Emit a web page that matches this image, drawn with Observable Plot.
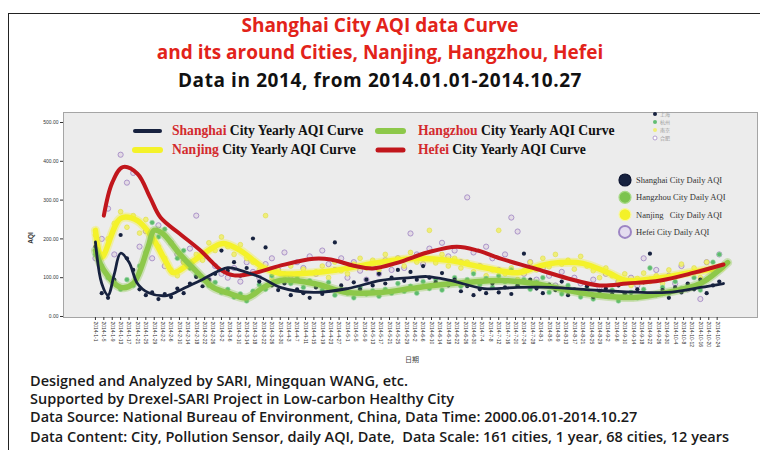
<!DOCTYPE html>
<html><head><meta charset="utf-8">
<script src="https://cdn.jsdelivr.net/npm/d3@7"></script>
<script src="https://cdn.jsdelivr.net/npm/@observablehq/plot@0.6"></script>
<style>
body{margin:0;background:#fff;}
#wrap{position:relative;width:760px;height:450px;overflow:hidden;font-family:"Open Sans",Lato,sans-serif;}
.frame{position:absolute;left:8px;top:13px;width:800px;height:500px;border-left:1.5px solid #222;border-top:1.5px solid #222;}
.t{position:absolute;left:0;width:760px;text-align:center;font-weight:bold;font-size:19px;line-height:22px;white-space:nowrap;}
.f{position:absolute;left:30px;font-size:14.5px;font-weight:600;color:#1a1a1a;line-height:16px;white-space:nowrap;}
#chart{position:absolute;left:0;top:100px;}
#ov{position:absolute;left:0;top:0;}
</style></head>
<body><div id="wrap">
<div class="frame"></div>
<div class="t" style="top:14px;color:#e2231a">Shanghai City AQI data Curve</div>
<div class="t" style="top:41px;color:#e2231a">and its around Cities, Nanjing, Hangzhou, Hefei</div>
<div class="t" style="top:69px;color:#111;letter-spacing:0.6px">Data in 2014, from 2014.01.01-2014.10.27</div>
<div id="chart"></div>
<svg id="ov" width="760" height="450"></svg>
<div class="f" style="top:373px">Designed and Analyzed by SARI, Mingquan WANG, etc.</div>
<div class="f" style="top:391px">Supported by Drexel-SARI Project in Low-carbon Healthy City</div>
<div class="f" style="top:409px">Data Source: National Bureau of Environment, China, Data Time: 2000.06.01-2014.10.27</div>
<div class="f" style="top:429px">Data Content: City, Pollution Sensor, daily AQI, Date,&nbsp; Data Scale: 161 cities, 1 year, 68 cities, 12 years</div>
</div>
<script>
// ---- data (day index from 2014-01-01) ----
const cities = ["Shanghai", "Hangzhou", "Nanjing", "Hefei"];
const cityCN = ["上海", "杭州", "南京", "合肥"];
const dailyDays = [0,3,6,9,12,15,18,21,24,27,30,33,36,39,42,45,48,51,54,57,60,63,66,69,72,75,78,81,84,87,90,93,96,99,102,105,108,111,114,117,120,123,126,129,132,135,138,141,144,147,150,153,156,159,162,165,168,171,174,177,180,183,186,189,192,195,198,201,204,207,210,213,216,219,222,225,228,231,234,237,240,243,246,249,252,255,258,261,264,267,270,273,276,279,282,285,288,291,294,297];
const shanghaiDaily = [180,60,48,95,210,150,120,70,55,62, 45,58,50,72,60,85,102,78,95,110, 170,118,140,105,125,201,90,178,80,68, 85,55,70,60,48,75,58,66,191,80, 65,88,70,95,80,110,85,100,120,92, 115,95,130,100,88,112,80,95,65,78, 55,70,60,85,62,75,58,80,162,95, 72,60,82,68,90,55,70,62,78,50, 66,72,58,80,60,52,70,88,162,55, 68,48,75,62,85,70,95,60,80,90];
const hangzhouDaily = [160,130,100,88,70,95,80,130,165,242, 205,225,190,150,170,125,105,95,80,88, 62,70,50,58,40,65,82,70,105,90, 110,85,98,75,92,80,68,88,55,70, 60,48,75,58,66,52,70,60,85,65, 78,60,90,72,95,68,85,100,78,95, 110,82,98,75,105,90,120,80,95,70, 88,100,62,75,58,80,65,50,72,45, 60,52,68,40,55,62,48,70,125,58, 75,60,90,72,80,100,68,95,140,160];
const nanjingDaily = [210,160,200,240,270,230,260,215,250,195, 180,150,120,105,140,125,160,145,190,170, 205,180,160,185,150,140,120,260,100,118, 95,130,105,122,90,115,130,100,140,118, 110,135,150,125,145,120,160,135,150,130, 165,140,155,222,138,160,130,150,125,140, 115,130,105,120,222,110,125,95,118,140, 120,150,128,160,135,145,122,155,130,118, 100,125,105,88,110,80,98,112,90,105, 85,120,100,135,110,125,100,140,118,130];
const hefeiDaily = [150,200,278,160,417,345,370,180,220,150, 235,130,190,160,140,175,260,150,95,130, 110,100,125,90,140,115,100,135,150,120, 165,105,140,125,155,110,170,135,120,150, 100,140,118,95,130,110,145,120,150,125, 214,160,135,175,145,190,155,170,140,307, 165,130,180,150,120,160,255,219,110,140, 95,125,105,80,115,70,100,85,60,95, 75,110,65,90,55,100,80,150,95,120, 60,105,85,130,70,115,45,140,120,160];

const shanghaiCurveDays = [0,3,6,9,12,16,20,25,34,40,50,63,69,79,88,104,120,136,150,158,169,185,201,217,240,272,288,299];
const shanghaiCurve     = [192,85,55,110,163,140,85,62,54,67,93,126,119,100,75,62,72,93,100,103,93,72,75,75,67,62,75,85];
const nanjingCurveDays  = [0,3,12,20,27,34,37,45,56,61,69,80,88,104,120,132,150,158,169,185,201,212,221,232,244,253,269,283,298];
const nanjingCurve      = [222,153,253,247,204,137,113,137,178,188,170,126,111,113,124,137,149,149,144,126,113,131,139,137,113,93,100,113,126];
const hangzhouCurveDays = [0,4,12,18,25,28,32,40,49,56,64,72,80,88,104,120,136,150,161,177,193,209,225,240,256,272,288,301];
const hangzhouCurve     = [170,119,75,85,178,222,214,162,111,75,59,48,75,93,85,62,62,72,80,88,93,85,67,54,49,62,85,139];
const hefeiCurveDays    = [4,8,13,20,26,31,40,50,60,66,75,88,104,112,123,132,144,158,172,182,193,209,225,240,253,269,285,299];
const hefeiCurve        = [260,345,385,368,307,255,214,170,119,106,111,131,149,147,131,124,139,165,180,170,149,124,98,80,85,93,113,134];

const yTicks = [0,100,200,300,400,500];
const xTickStep = 4; // a date label every 4 days
const curveLabel = ["Shanghai", "Nanjing", "Hangzhou", "Hefei"];

// ---- helpers ----
const T0 = Date.UTC(2014,0,1), DAY = 864e5;
const toDate = d => new Date(T0 + d*DAY);
const xTicks = d3.range(0, 300, xTickStep).map(toDate);
const pts = (vals) => dailyDays.map((d,i)=>({date:toDate(d), aqi:vals[i]}));
const crv = (days, vals) => days.map((d,i)=>({date:toDate(d), aqi:vals[i]}));

const C = {navy:"#17223f", green:"#8dc84a", yellow:"#f4f22a", red:"#c1161c"};

const chart = Plot.plot({
  width:760, height:270, marginLeft:63, marginRight:3, marginTop:12, marginBottom:53,
  style:{background:"transparent", fontFamily:"'Liberation Sans',Arial,sans-serif", color:"#333"},
  x:{type:"utc", domain:[toDate(-15.2), toDate(315.2)]},
  y:{domain:[-2.6, 525.8]},
  marks:[
    Plot.frame({fill:"#ececec", stroke:"#a5a5a5"}),
    Plot.axisX({ticks:xTicks, tickFormat:d3.utcFormat("%Y-%-m-%-d"), tickRotate:90, tickSize:3, tickPadding:1, fontSize:5, label:null}),
    Plot.axisY({ticks:yTicks, tickFormat:d3.format(".2f"), tickSize:3, tickPadding:2, fontSize:5, label:null}),
    Plot.dot(pts(hefeiDaily), {x:"date", y:"aqi", r:2.6, stroke:"#a58cc6", strokeWidth:0.9, fill:"#e3dbe4"}),
    Plot.dot(pts(nanjingDaily), {x:"date", y:"aqi", r:2.4, fill:"#efee78", stroke:"#dedb45", strokeWidth:0.6}),
    Plot.dot(pts(hangzhouDaily), {x:"date", y:"aqi", r:2.4, fill:"#5dbb6e", stroke:"#9fd8a6", strokeWidth:0.6}),
    Plot.dot(pts(shanghaiDaily), {x:"date", y:"aqi", r:2.1, fill:C.navy}),
    Plot.line(crv(nanjingCurveDays, nanjingCurve), {x:"date", y:"aqi", curve:"catmull-rom", stroke:C.yellow, strokeWidth:9, strokeOpacity:0.35}),
    Plot.line(crv(nanjingCurveDays, nanjingCurve), {x:"date", y:"aqi", curve:"catmull-rom", stroke:C.yellow, strokeWidth:5.5}),
    Plot.line(crv(hangzhouCurveDays, hangzhouCurve), {x:"date", y:"aqi", curve:"catmull-rom", stroke:C.green, strokeWidth:9, strokeOpacity:0.35}),
    Plot.line(crv(hangzhouCurveDays, hangzhouCurve), {x:"date", y:"aqi", curve:"catmull-rom", stroke:C.green, strokeWidth:5.5}),
    Plot.line(crv(hefeiCurveDays, hefeiCurve), {x:"date", y:"aqi", curve:"catmull-rom", stroke:C.red, strokeWidth:4}),
    Plot.line(crv(shanghaiCurveDays, shanghaiCurve), {x:"date", y:"aqi", curve:"catmull-rom", stroke:C.navy, strokeWidth:2.8})
  ]
});
document.getElementById("chart").appendChild(chart);

// ---- overlay legends & axis titles ----
const ov = d3.select("#ov");
ov.append("text").attr("transform","translate(33,238) rotate(-90)").attr("text-anchor","middle")
  .attr("font-family","'Liberation Sans',Arial").attr("font-weight","bold").attr("font-size",6.5).attr("fill","#333").text("AQI");
ov.append("text").attr("x",412).attr("y",362).attr("text-anchor","middle")
  .attr("font-family","'Noto Sans CJK SC'").attr("font-size",7).attr("fill","#444").text("日期");

// curve legend
const curveColors = [C.navy, C.yellow, C.green, C.red];
const curveW = [4, 6, 6, 5];
curveLabel.forEach((name,i)=>{
  const col = i<2 ? 0 : 1, row = i%2;
  const x0 = col ? 378 : 135, y0 = row ? 150 : 131;
  ov.append("line").attr("x1",x0).attr("x2",x0+25).attr("y1",y0).attr("y2",y0)
    .attr("stroke",curveColors[i]).attr("stroke-width",curveW[i]).attr("stroke-linecap","round");
  const t = ov.append("text").attr("x",x0+(col?40:37)).attr("y",y0+4)
    .attr("font-family","'Liberation Serif','Times New Roman',serif").attr("font-weight","bold").attr("font-size",13.6);
  t.append("tspan").attr("fill","#d32a2e").text(name);
  t.append("tspan").attr("fill","#111").text(" City Yearly AQI Curve");
});

// daily legend
const dotStyle = [
  {fill:C.navy, stroke:"#0c1430"},
  {fill:"#7cc34f", stroke:"#a8da88"},
  {fill:"#f3f129", stroke:"#f8f7a0"},
  {fill:"#e4dcef", stroke:"#9d85c4"}
];
const dailyLabels = ["Shanghai City Daily AQI", "Hangzhou City Daily AQI", "Nanjing   City Daily AQI", "Hefei City Daily AQI"];
[0,1,2,3].forEach((k,i)=>{
  const y = 180 + i*17.3;
  ov.append("circle").attr("cx",625).attr("cy",y).attr("r",6).attr("fill",dotStyle[k].fill)
    .attr("stroke",dotStyle[k].stroke).attr("stroke-width",k===3?2:1.2);
  ov.append("text").attr("x",636).attr("y",y+3).attr("xml:space","preserve")
    .attr("font-family","'Liberation Serif',serif").attr("font-size",8.5).attr("fill","#333").text(dailyLabels[k]);
});

// tiny corner legend
[C.navy, "#62bd73", "#efee78", "#ffffff"].forEach((c,i)=>{
  const y = 114 + i*8;
  ov.append("circle").attr("cx",655).attr("cy",y).attr("r",2).attr("fill",c).attr("stroke", i===3?"#a58cc6":"none").attr("stroke-width",0.8);
  ov.append("text").attr("x",660).attr("y",y+2).attr("font-family","'Noto Sans CJK SC'").attr("font-size",5).attr("fill","#999").text(cityCN[i]);
});
</script>
</body></html>
